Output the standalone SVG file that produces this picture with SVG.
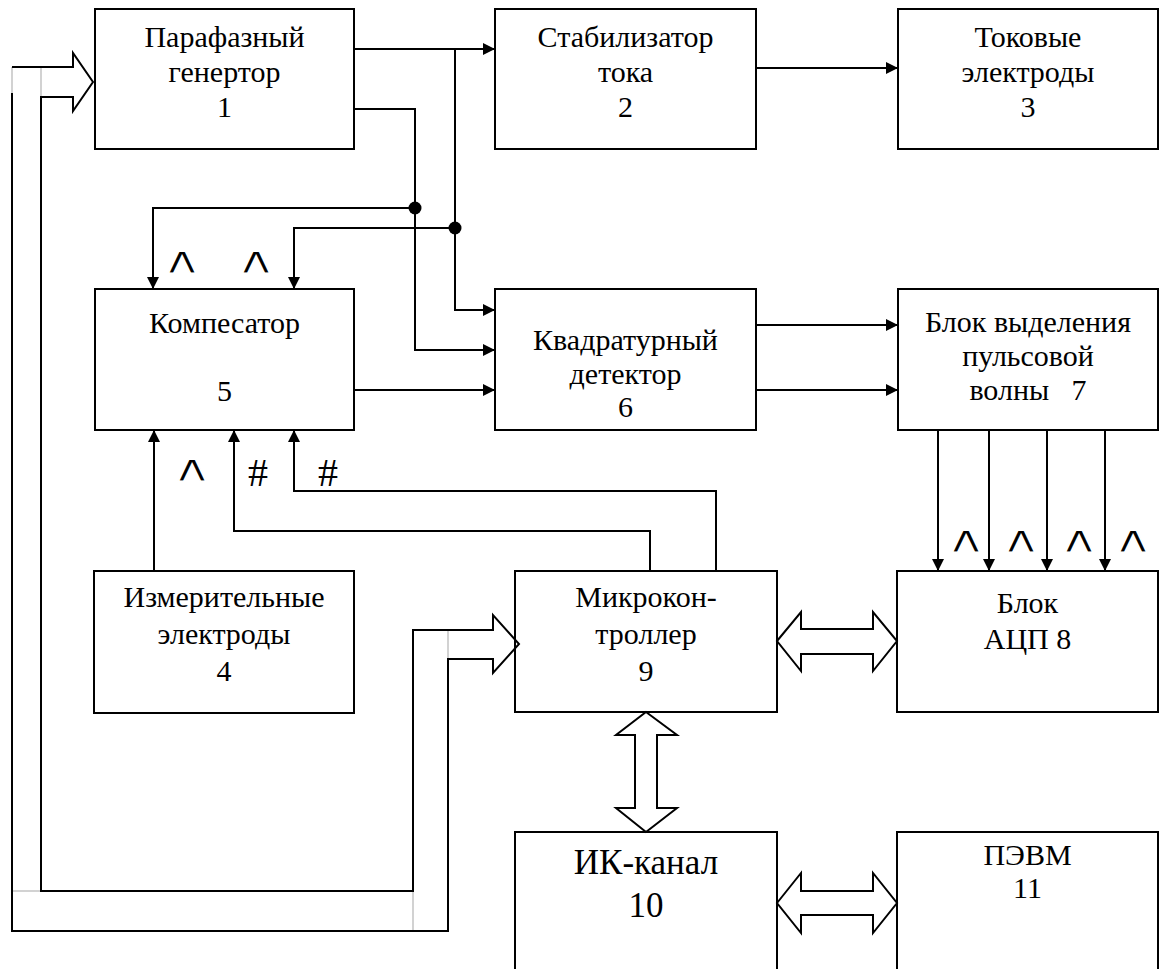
<svg xmlns="http://www.w3.org/2000/svg" width="1162" height="969" viewBox="0 0 1162 969">
<style>
.box{fill:#fff;stroke:#000;stroke-width:2}
.open{fill:none;stroke:#000;stroke-width:2}
.w{fill:none;stroke:#000;stroke-width:2}
.g{fill:none;stroke:#c4c4c4;stroke-width:1.5}
.hol{fill:#fff;stroke:#000;stroke-width:2;stroke-linejoin:miter}
.car{stroke:#fff;stroke-width:1.4}
</style>
<defs>
<marker id="ah" viewBox="0 0 12 12" refX="12" refY="6" markerWidth="12" markerHeight="12" markerUnits="userSpaceOnUse" orient="auto">
<path d="M0,0 L12,6 L0,12 Z" fill="#000"/>
</marker>
</defs>
<rect width="1162" height="969" fill="#fff"/>

<g font-family="Liberation Serif, DejaVu Serif, serif" font-size="30" text-anchor="middle" fill="#000">
<g id="n1"><rect class="box" x="95" y="9" width="259" height="140"/>
<text x="224.5" y="47">Парафазный</text><text x="224.5" y="82">генертор</text><text x="224.5" y="117">1</text></g>
<g id="n2"><rect class="box" x="495" y="9" width="261" height="140"/>
<text x="625.5" y="47">Стабилизатор</text><text x="625.5" y="82">тока</text><text x="625.5" y="117">2</text></g>
<g id="n3"><rect class="box" x="898" y="9" width="260" height="140"/>
<text x="1028" y="47">Токовые</text><text x="1028" y="82">электроды</text><text x="1028" y="117">3</text></g>
<g id="n5"><rect class="box" x="95" y="289" width="259" height="141"/>
<text x="224.5" y="333">Компесатор</text><text x="224.5" y="401">5</text></g>
<g id="n6"><rect class="box" x="495" y="289" width="261" height="141"/>
<text x="625.5" y="350">Квадратурный</text><text x="625.5" y="384">детектор</text><text x="625.5" y="417">6</text></g>
<g id="n7"><rect class="box" x="898" y="289" width="260" height="141"/>
<text x="1028" y="332">Блок выделения</text><text x="1028" y="366">пульсовой</text><text x="1028" y="400" xml:space="preserve">волны   7</text></g>
<g id="n4"><rect class="box" x="94" y="571" width="260" height="142"/>
<text x="224" y="607">Измерительные</text><text x="224" y="644">электроды</text><text x="224" y="681">4</text></g>
<g id="n9"><rect class="box" x="515" y="571" width="262" height="141"/>
<text x="646" y="607">Микрокон-</text><text x="646" y="644">троллер</text><text x="646" y="681">9</text></g>
<g id="n8"><rect class="box" x="897" y="571" width="261" height="141"/>
<text x="1027.5" y="613">Блок</text><text x="1027.5" y="649">АЦП 8</text></g>
<g id="n10"><path class="open" d="M515,970 V832 H777 V970"/>
<text x="646" y="874" font-size="35">ИК-канал</text><text x="646" y="917" font-size="35">10</text></g>
<g id="n11"><path class="open" d="M897,970 V832 H1158 V970"/>
<text x="1027.5" y="865">ПЭВМ</text><text x="1027.5" y="898">11</text></g>
</g>

<g id="connectors">
<path class="w" d="M354,49 H495" marker-end="url(#ah)"/>
<path class="w" d="M455,49 V310 H495" marker-end="url(#ah)"/>
<path class="w" d="M354,109 H415 V350 H495" marker-end="url(#ah)"/>
<path class="w" d="M415,208 H153 V289" marker-end="url(#ah)"/>
<path class="w" d="M455,228 H294 V289" marker-end="url(#ah)"/>
<path class="w" d="M354,390 H495" marker-end="url(#ah)"/>
<path class="w" d="M756,68 H898" marker-end="url(#ah)"/>
<path class="w" d="M756,325 H898" marker-end="url(#ah)"/>
<path class="w" d="M756,390 H898" marker-end="url(#ah)"/>
<path class="w" d="M938,430 V571" marker-end="url(#ah)"/>
<path class="w" d="M989,430 V571" marker-end="url(#ah)"/>
<path class="w" d="M1047,430 V571" marker-end="url(#ah)"/>
<path class="w" d="M1105,430 V571" marker-end="url(#ah)"/>
<path class="w" d="M154,571 V430" marker-end="url(#ah)"/>
<path class="w" d="M650,571 V531 H234 V430" marker-end="url(#ah)"/>
<path class="w" d="M716,571 V491 H294 V430" marker-end="url(#ah)"/>
<circle cx="415" cy="208" r="6.5" fill="#000"/>
<circle cx="455" cy="228" r="6.5" fill="#000"/>
<path class="hol" d="M646,712 L677,735 L657,735 L657,808 L677,808 L646,832 L616,808 L635,808 L635,735 L616,735 Z"/>
<path class="hol" d="M777,641 L801,612 L801,629 L873,629 L873,612 L897,641 L873,671 L873,654 L801,654 L801,671 Z"/>
<path class="hol" d="M777,903 L801,873 L801,891 L873,891 L873,873 L897,903 L873,933 L873,915 L801,915 L801,933 Z"/>
<path class="g" d="M12,67 V93 M41,67 V97 M12,891 H41 M413,891 V931 M448,630 V659"/>
<path class="w" d="M12,93 V931 H448 V659 H493 V673 L519,644 L493,615 V630 H413 V891 H41 V97 H73 V111 L93,82 L73,53 V67 H12"/>
</g>

<g id="labels" font-family="DejaVu Serif, serif" font-size="46" text-anchor="middle" fill="#000">
<text class="car" transform="translate(182,273) scale(1.25,0.8)">∧</text>
<text class="car" transform="translate(256,273) scale(1.25,0.8)">∧</text>
<text class="car" transform="translate(192,481) scale(1.25,0.8)">∧</text>
<text x="258" y="486" font-family="Liberation Serif, serif" font-size="40">#</text>
<text x="328" y="486" font-family="Liberation Serif, serif" font-size="40">#</text>
<text class="car" transform="translate(966,552) scale(1.25,0.8)">∧</text>
<text class="car" transform="translate(1021,552) scale(1.25,0.8)">∧</text>
<text class="car" transform="translate(1079,552) scale(1.25,0.8)">∧</text>
<text class="car" transform="translate(1133,552) scale(1.25,0.8)">∧</text>
</g>
</svg>
